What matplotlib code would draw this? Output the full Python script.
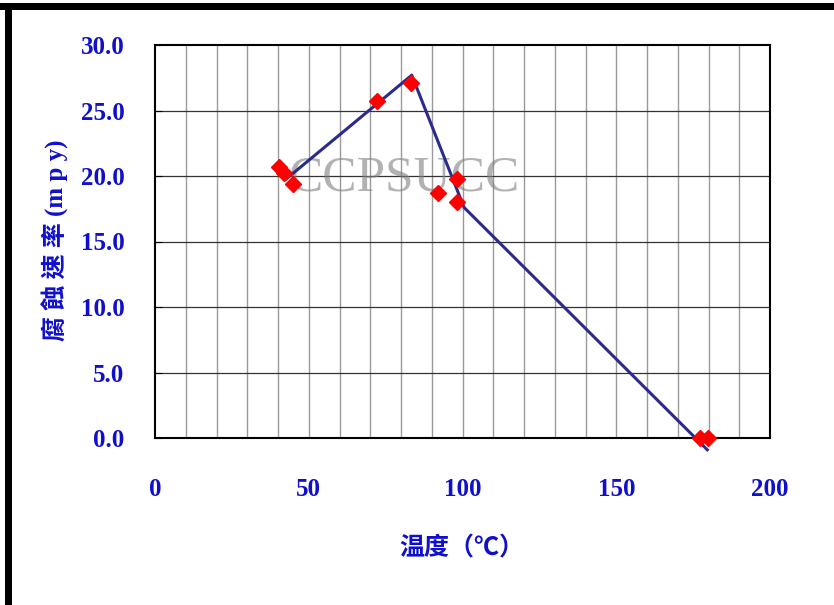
import matplotlib.pyplot as plt
from matplotlib.patches import Rectangle

# measured corrosion points (red diamonds)
temp_pts = [40.4, 41.9, 45.0, 72.1, 83.2, 92.1, 98.3, 98.3, 177.2, 179.8]
rate_pts = [20.7, 20.25, 19.4, 25.7, 27.1, 18.7, 19.8, 18.0, 0.0, 0.0]

# trend line
temp_line = [42.8, 83.5, 100.5, 179.6]
rate_line = [19.8, 27.7, 17.6, -0.9]

x_ticks = [0, 50, 100, 150, 200]
y_ticks = [0, 5, 10, 15, 20, 25, 30]

blue = "#1010CC"
serif = "Liberation Serif"

fig = plt.figure(figsize=(8.34, 6.05), dpi=100)
ax = fig.add_axes([155 / 834, 1 - 438 / 605, 615 / 834, 393 / 605])

# grid: gray vertical every 10, black horizontal every 5
for xv in range(10, 200, 10):
    ax.axvline(xv, color="#9a9a9a", lw=1.0, zorder=0)
for yv in y_ticks[1:-1]:
    ax.axhline(yv, color="#333333", lw=0.9, zorder=0)

ax.plot(temp_line, rate_line, color="#2B2B8C", lw=2.2, zorder=3, clip_on=False)
ax.plot(temp_pts, rate_pts, linestyle="none", marker="D", markersize=8,
        color="#FF0000", zorder=4, clip_on=False)

ax.set_xlim(0, 200)
ax.set_ylim(0, 30)
ax.set_xticks(x_ticks)
ax.set_yticks(y_ticks)
ax.set_xticklabels([str(v) for v in x_ticks], fontsize=18, fontweight="bold",
                   color=blue, family=serif)
ax.set_yticklabels([f"{v:.1f}" for v in y_ticks], fontsize=18, fontweight="bold",
                   color=blue, family=serif)
ax.tick_params(axis="x", length=0, pad=29)
ax.tick_params(axis="y", direction="in", length=5, pad=22)
for s in ax.spines.values():
    s.set_linewidth(1.5)
    s.set_color("black")

# watermark
ax.text(0.405, 0.66, "CCPSUCC", transform=ax.transAxes, fontsize=37,
        family=serif, color="#808080", alpha=0.6, ha="center", va="center",
        zorder=2)

# axis titles
fig.text(462 / 834, 1 - 548 / 605, "温度（℃）", fontsize=18, fontweight="bold",
         color=blue, ha="center", va="center",
         family=["Noto Sans CJK TC", "DejaVu Sans"])
fig.text(55 / 834, 1 - 240 / 605, "腐 蝕 速 率 (m p y)", fontsize=18, fontweight="bold",
         color=blue, ha="center", va="center", rotation=90,
         family=[serif, "Noto Sans CJK TC"])

# black frame bars at top and left
fig.add_artist(Rectangle((0, 1 - 10 / 605), 1, 7 / 605, transform=fig.transFigure,
                         color="black", lw=0))
fig.add_artist(Rectangle((5 / 834, 0), 7 / 834, 1 - 3 / 605, transform=fig.transFigure,
                         color="black", lw=0))

fig.savefig("out.png", dpi=100)
